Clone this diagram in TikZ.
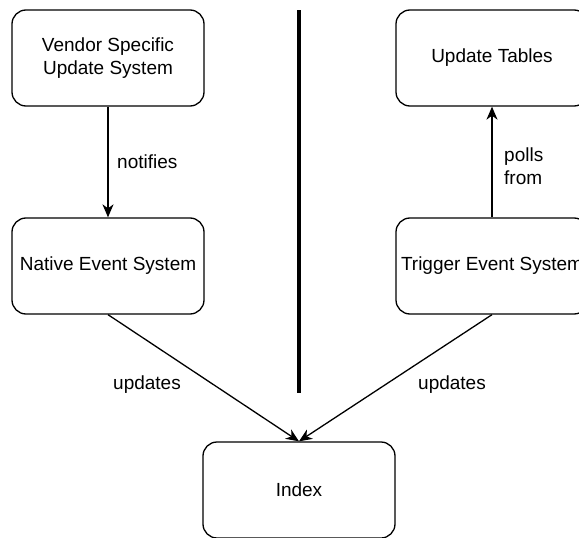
\documentclass[tikz,border=0pt]{standalone}
\usepackage{fontspec}
\setmainfont{Liberation Sans}
\usetikzlibrary{arrows.meta}

\begin{document}
\begin{tikzpicture}[x=1pt, y=-1pt,
        box/.style={draw=black, line width=1.3pt, rounded corners=14pt,
            minimum width=192pt, minimum height=96pt, align=center,
            inner sep=0pt, font=\fontsize{19}{23}\selectfont},
        lbl/.style={font=\fontsize{19}{23}\selectfont, inner sep=0pt},
        link/.style={line width=1.3pt, -{Stealth[length=13pt, width=11pt, inset=4pt]}}]
        \clip (0,0) rectangle (579,538);
        \useasboundingbox (0,0) rectangle (579,538);

        % left side
        \node[box] (vendor) at (108,58) {Vendor Specific\\Update System};
        \node[box] (native) at (108,266) {Native Event System};

        % right side
        \node[box] (tables) at (492,58) {Update Tables};
        \node[box] (trigger) at (492,266) {Trigger Event System};

        % bottom
        \node[box] (index) at (299,490) {Index};

        % divider
        \coordinate (divtop) at (299,10);
        \coordinate (divbot) at (299,393);
        \draw[line width=3.5pt] (divtop) -- (divbot);

        \draw[link] (vendor) -- (native);
        \draw[link] (trigger) -- (tables);
        \draw[link] (native.south) -- (index.north);
        \draw[link] (trigger.south) -- (index.north);

        \node[lbl, anchor=west] (notifies) at (117,162) {notifies};
        \node[lbl, anchor=west, align=left] (polls) at (504,166) {polls\\from};
        \node[lbl] (updl) at (147,385) {updates};
        \node[lbl] (updr) at (452,385) {updates};
    \end{tikzpicture}
\end{document}
